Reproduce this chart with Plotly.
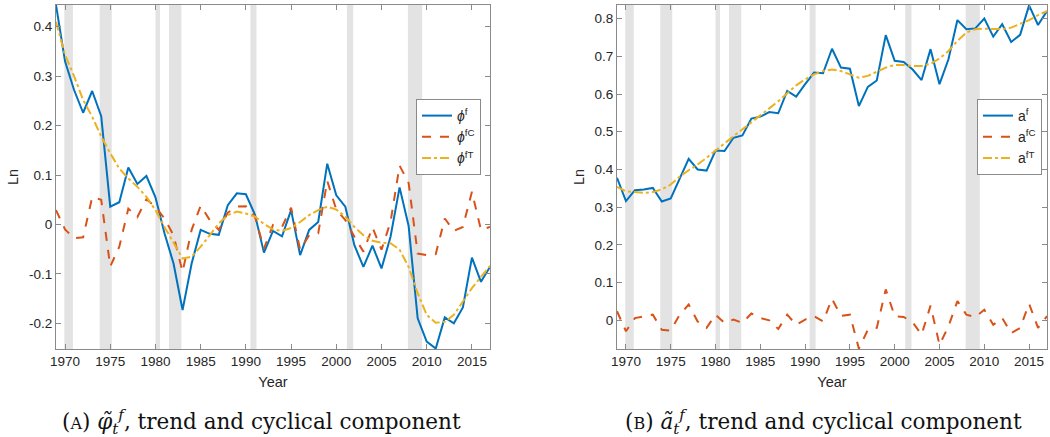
import plotly.graph_objects as go

years = list(range(1969, 2018))

# Panel A: phi^f, cyclical, trend
phi_f = [0.444, 0.33, 0.272, 0.226, 0.27, 0.219, 0.036, 0.045, 0.115, 0.082,
         0.098, 0.055, -0.018, -0.079, -0.173, -0.079, -0.011, -0.019, -0.021, 0.039,
         0.063, 0.061, 0.02, -0.057, -0.013, -0.024, 0.029, -0.062, -0.011, 0.005,
         0.123, 0.059, 0.036, -0.042, -0.086, -0.043, -0.089, -0.025, 0.075, -0.003,
         -0.19, -0.237, -0.251, -0.188, -0.2, -0.168, -0.067, -0.116, -0.086]
phi_fC = [0.029, -0.01, -0.028, -0.026, 0.055, 0.05, -0.085, -0.045, 0.032, 0.015,
          0.051, 0.036, 0.012, -0.022, -0.096, -0.011, 0.038, 0.009, -0.011, 0.024,
          0.036, 0.037, 0.016, -0.049, -0.001, -0.005, 0.034, -0.051, -0.022, -0.018,
          0.088, 0.03, 0.009, -0.025, -0.055, -0.006, -0.051, 0.005, 0.119, 0.084,
          -0.059, -0.062, -0.06, 0.012, -0.013, -0.005, 0.066, -0.011, -0.005]
phi_fT = [0.41, 0.343, 0.3, 0.252, 0.218, 0.178, 0.144, 0.113, 0.093, 0.076,
          0.056, 0.029, -0.005, -0.038, -0.069, -0.065, -0.045, -0.022, 0.002, 0.019,
          0.026, 0.022, 0.016, 0.001, -0.01, -0.013, -0.007, 0.005, 0.019, 0.029,
          0.036, 0.03, 0.016, -0.005, -0.022, -0.033, -0.037, -0.038, -0.051, -0.086,
          -0.139, -0.183, -0.199, -0.197, -0.183, -0.156, -0.129, -0.106, -0.084]

# Panel B: a^f, cyclical, trend
a_f = [0.378, 0.316, 0.345, 0.347, 0.351, 0.315, 0.323, 0.378, 0.428, 0.4,
       0.397, 0.45, 0.449, 0.484, 0.49, 0.535, 0.54, 0.552, 0.549, 0.608,
       0.593, 0.626, 0.657, 0.655, 0.72, 0.67, 0.667, 0.568, 0.619, 0.636,
       0.756, 0.688, 0.685, 0.665, 0.637, 0.719, 0.626, 0.692, 0.796, 0.772,
       0.774, 0.8, 0.752, 0.785, 0.738, 0.757, 0.835, 0.783, 0.82]
a_fC = [0.024, -0.029, 0.006, 0.01, 0.015, -0.025, -0.027, 0.015, 0.042, -0.003,
        -0.02, 0.015, -0.007, 0.002, -0.007, 0.018, 0.006, 0.0, -0.023, 0.015,
        -0.012, 0.002, 0.011, -0.003, 0.057, 0.012, 0.015, -0.075, -0.025, -0.02,
        0.082, 0.011, 0.009, -0.005, -0.038, 0.039, -0.065, -0.016, 0.051, 0.015,
        0.009, 0.028, -0.012, 0.006, -0.034, -0.02, 0.044, -0.02, 0.011]
a_fT = [0.354, 0.342, 0.34, 0.338, 0.34, 0.347, 0.36, 0.381, 0.398, 0.413,
        0.431, 0.449, 0.469, 0.488, 0.506, 0.526, 0.544, 0.562, 0.581, 0.601,
        0.623, 0.639, 0.652, 0.661, 0.665, 0.661, 0.652, 0.643, 0.648, 0.658,
        0.67, 0.677, 0.677, 0.674, 0.674, 0.68, 0.694, 0.714, 0.741, 0.763,
        0.772, 0.773, 0.772, 0.772, 0.776, 0.785, 0.796, 0.809, 0.82]

# NBER recessions (start, end) in fractional years
recessions = [(1969.92, 1970.87), (1973.83, 1975.17), (1980.0, 1980.5),
              (1981.5, 1982.87), (1990.5, 1991.17), (2001.17, 2001.87),
              (2007.92, 2009.5)]

x_ticks = list(range(1970, 2016, 5))
yA_ticks = [-0.2, -0.1, 0, 0.1, 0.2, 0.3, 0.4]
yA_labels = ["-0.2", "-0.1", "0", "0.1", "0.2", "0.3", "0.4"]
yB_ticks = [0, 0.1, 0.2, 0.3, 0.4, 0.5, 0.6, 0.7, 0.8]
yB_labels = ["0", "0.1", "0.2", "0.3", "0.4", "0.5", "0.6", "0.7", "0.8"]

BLUE, RED, YEL = "#0072BD", "#D95319", "#EDB120"
W, H = 1050, 437
SANS = "Liberation Sans, Arial"
TXT = "#262626"

fig = go.Figure()

def add_panel(y1, y2, y3, names, xa, ya, leg):
    fig.add_trace(go.Scatter(x=years, y=y1, mode="lines", name=names[0],
                             line=dict(color=BLUE, width=2), xaxis=xa, yaxis=ya, legend=leg))
    fig.add_trace(go.Scatter(x=years, y=y2, mode="lines", name=names[1],
                             line=dict(color=RED, width=2, dash="dash"), xaxis=xa, yaxis=ya, legend=leg))
    fig.add_trace(go.Scatter(x=years, y=y3, mode="lines", name=names[2],
                             line=dict(color=YEL, width=2, dash="dashdot"), xaxis=xa, yaxis=ya, legend=leg))

add_panel(phi_f, phi_fC, phi_fT,
          ["<i>ϕ</i><sup>f</sup>", "<i>ϕ</i><sup>fC</sup>", "<i>ϕ</i><sup>fT</sup>"], "x", "y", "legend")
add_panel(a_f, a_fC, a_fT,
          ["a<sup>f</sup>", "a<sup>fC</sup>", "a<sup>fT</sup>"], "x2", "y2", "legend2")

for xr, yr in [("x", "y domain"), ("x2", "y2 domain")]:
    for s, e in recessions:
        fig.add_shape(type="rect", xref=xr, yref=yr, x0=s, x1=e, y0=0, y1=1,
                      fillcolor="#e3e3e3", line=dict(width=0), layer="below")

ydom = [1 - 349 / H, 1 - 5 / H]
axis_common = dict(showline=True, linecolor="#8a8a8a", linewidth=1, mirror="allticks",
                   ticks="inside", ticklen=5, tickcolor="#8a8a8a", showgrid=False,
                   zeroline=False, automargin=False,
                   tickfont=dict(family=SANS, size=13.5, color=TXT))
title_font = dict(family=SANS, size=14.5, color=TXT)

fig.update_layout(
    width=W, height=H,
    margin=dict(l=0, r=0, t=0, b=0),
    paper_bgcolor="white", plot_bgcolor="white",
    xaxis=dict(domain=[56 / W, 490 / W], range=[1969, 2017], tickvals=x_ticks, anchor="y",
               title=dict(text="Year", font=title_font, standoff=8), **axis_common),
    yaxis=dict(domain=ydom, range=[-0.252, 0.444], tickvals=yA_ticks, ticktext=yA_labels, anchor="x",
               title=dict(text="Ln", font=title_font, standoff=6), **axis_common),
    xaxis2=dict(domain=[617 / W, 1047 / W], range=[1969, 2017], tickvals=x_ticks, anchor="y2",
                title=dict(text="Year", font=title_font, standoff=8), **axis_common),
    yaxis2=dict(domain=ydom, range=[-0.076, 0.836], tickvals=yB_ticks, ticktext=yB_labels, anchor="x2",
                title=dict(text="Ln", font=title_font, standoff=6), **axis_common),
    legend=dict(x=416 / W, y=1 - 99 / H, xanchor="left", yanchor="top",
                bordercolor="#8a8a8a", borderwidth=1, bgcolor="white",
                font=dict(family=SANS, size=14, color=TXT),
                tracegroupgap=0, itemwidth=30),
    legend2=dict(x=977 / W, y=1 - 99 / H, xanchor="left", yanchor="top",
                 bordercolor="#8a8a8a", borderwidth=1, bgcolor="white",
                 font=dict(family=SANS, size=14, color=TXT),
                 tracegroupgap=0, itemwidth=30),
    showlegend=True,
)

cap_font = dict(family="DejaVu Serif", size=21.5, color="#111111")
fig.add_annotation(xref="paper", yref="paper", x=261 / W, y=1 - 422 / H,
                   xanchor="center", yanchor="middle", showarrow=False,
                   text="(<span style='font-size:16px'>A</span>) <i>φ̃</i><sub><i>t</i></sub><sup><i>f</i></sup>, trend and cyclical component",
                   font=cap_font)
fig.add_annotation(xref="paper", yref="paper", x=823 / W, y=1 - 422 / H,
                   xanchor="center", yanchor="middle", showarrow=False,
                   text="(<span style='font-size:16px'>B</span>) <i>ã</i><sub><i>t</i></sub><sup><i>f</i></sup>, trend and cyclical component",
                   font=cap_font)

fig.write_html("out.html", config={"displayModeBar": False},
               post_script="document.body.style.margin='0px';document.body.style.overflow='hidden';")
